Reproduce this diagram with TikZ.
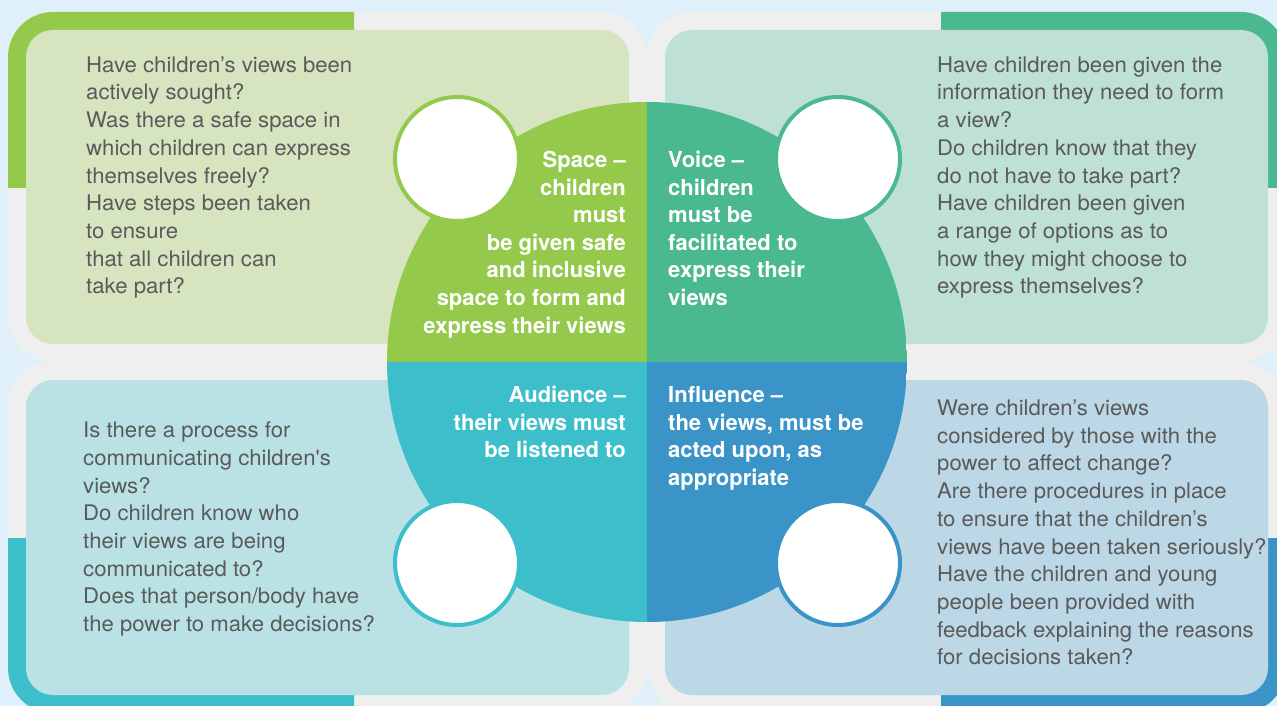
\documentclass[tikz,border=0pt]{standalone}
\usepackage{fontspec}
\setmainfont{TeX Gyre Heros}
\newfontfamily\questionfont{TeX Gyre Heros}[FakeStretch=1.03]
\definecolor{bgblue}{HTML}{DFF0FA}
\definecolor{frameg}{HTML}{EFEFEF}
\definecolor{cGreen}{HTML}{95C94B}
\definecolor{cTeal}{HTML}{4AB98F}
\definecolor{cCyan}{HTML}{3CBFCA}
\definecolor{cBlue}{HTML}{3B94C8}
\definecolor{pGreen}{HTML}{D6E5C0}
\definecolor{pTeal}{HTML}{BFE0D6}
\definecolor{pCyan}{HTML}{BAE2E5}
\definecolor{pBlue}{HTML}{BCD7E5}
\definecolor{bodytext}{HTML}{5A5A5A}
\newcommand\firstlinestrut{\rule{0pt}{18pt}}
\begin{document}
\begin{tikzpicture}[x=1pt,y=-1pt,
  frame/.style={fill=frameg, rounded corners=45pt},
  panel/.style={rounded corners=27pt},
  spot/.style={circle, fill=white, line width=4pt, minimum size=124pt, inner sep=0pt},
  question/.style={inner sep=0pt, align=left, text=bodytext,
    font=\questionfont\fontsize{21.5}{27.7}\selectfont},
  headleft/.style={inner sep=0pt, align=right, text=white, anchor=north east,
    font=\fontsize{22}{27.6}\selectfont\bfseries},
  headright/.style={inner sep=0pt, align=left, text=white, anchor=north west,
    font=\fontsize{22}{27.6}\selectfont\bfseries}]
\useasboundingbox (0,0) rectangle (1277,706);
\fill[bgblue] (0,0) rectangle (1277,706);

% outer frames of the four quarters
\fill[frame] (8,12) rectangle (647,362);
\fill[frame] (647,12) rectangle (1286,362);
\fill[frame] (8,362) rectangle (647,713);
\fill[frame] (647,362) rectangle (1286,713);

% coloured corner bands
\begin{scope}
  \clip (8,12) rectangle (354,187);
  \fill[cGreen, rounded corners=45pt] (8,12) rectangle (647,362);
\end{scope}
\begin{scope}
  \clip (941,12) rectangle (1286,187);
  \fill[cTeal, rounded corners=45pt] (647,12) rectangle (1286,362);
\end{scope}
\begin{scope}
  \clip (8,538) rectangle (354,713);
  \fill[cCyan, rounded corners=45pt] (8,362) rectangle (647,713);
\end{scope}
\begin{scope}
  \clip (941,538) rectangle (1286,713);
  \fill[cBlue, rounded corners=45pt] (647,362) rectangle (1286,713);
\end{scope}

% inner panels
\fill[pGreen, panel] (26,30) rectangle (629,344);
\fill[pTeal, panel] (665,30) rectangle (1268,344);
\fill[pCyan, panel] (26,380) rectangle (629,695);
\fill[pBlue, panel] (665,380) rectangle (1268,695);

% central disc in four quadrants
\node[circle, minimum size=520pt, inner sep=0pt,
  path picture={
    \fill[cGreen] (path picture bounding box.center) rectangle (path picture bounding box.north west);
    \fill[cTeal] (path picture bounding box.center) rectangle (path picture bounding box.north east);
    \fill[cCyan] (path picture bounding box.center) rectangle (path picture bounding box.south west);
    \fill[cBlue] (path picture bounding box.center) rectangle (path picture bounding box.south east);
  }] (hub) at (647,362) {};

% small white discs
\node[spot, draw=cGreen] (spotspace) at (457,159) {};
\node[spot, draw=cTeal] (spotvoice) at (838,159) {};
\node[spot, draw=cCyan] (spotaudience) at (457,563) {};
\node[spot, draw=cBlue] (spotinfluence) at (838,563) {};

% headings in the disc
\node[headleft] (space) at (626,149.3) {\firstlinestrut Space –\\children\\must\\be given safe\\and inclusive\\space to form and\\express their views};
\node[headright] (voice) at (668,149.3) {\firstlinestrut Voice –\\children\\must be\\facilitated to\\express their\\views};
\node[headleft] (audience) at (626,384.3) {\firstlinestrut Audience –\\their views must\\be listened to};
\node[headright] (influence) at (668,384.3) {\firstlinestrut Influence –\\the views, must be\\acted upon, as\\appropriate};

% questions
\node[question, anchor=north west] (qspace) at (86,54) {\firstlinestrut Have children’s views been\\actively sought?\\Was there a safe space in\\which children can express\\themselves freely?\\Have steps been taken\\to ensure\\that all children can\\take part?};
\node[question, anchor=north west] (qvoice) at (937,54) {\firstlinestrut Have children been given the\\information they need to form\\a view?\\Do children know that they\\do not have to take part?\\Have children been given\\a range of options as to\\how they might choose to\\express themselves?};
\node[question, anchor=north west] (qaudience) at (83,419.5) {\firstlinestrut Is there a process for\\communicating children's\\views?\\Do children know who\\their views are being\\communicated to?\\Does that person/body have\\the power to make decisions?};
\node[question, anchor=north west] (qinfluence) at (937,397.3) {\firstlinestrut Were children’s views\\considered by those with the\\power to affect change?\\Are there procedures in place\\to ensure that the children’s\\views have been taken seriously?\\Have the children and young\\people been provided with\\feedback explaining the reasons\\for decisions taken?};
\end{tikzpicture}
\end{document}
